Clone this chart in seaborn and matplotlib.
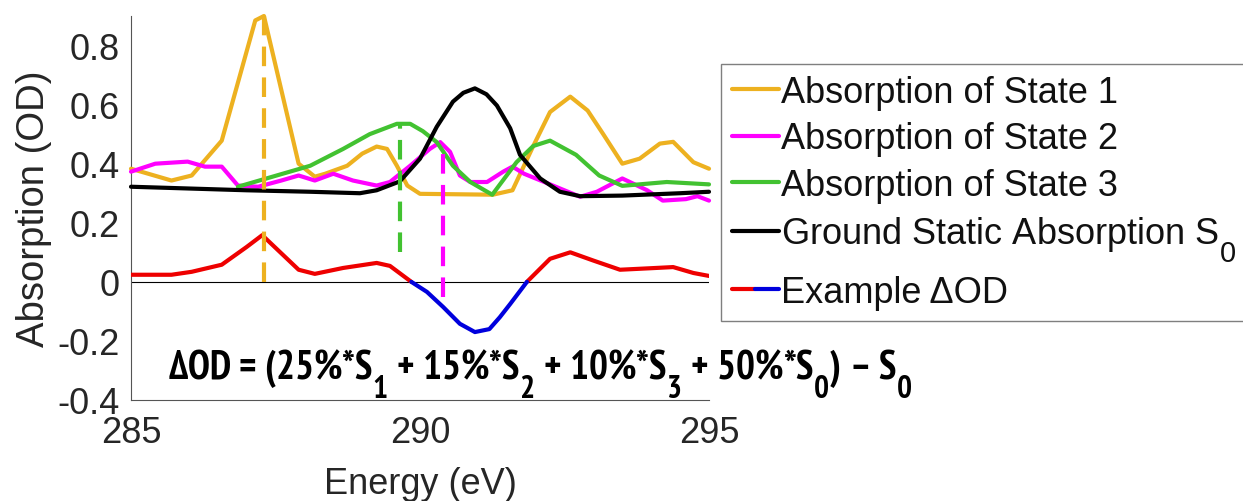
import os
import numpy as np
import pandas as pd
import matplotlib
matplotlib.use("Agg")
import matplotlib.pyplot as plt
import seaborn as sns
from matplotlib import font_manager as fm
from matplotlib.font_manager import FontProperties
from matplotlib.lines import Line2D
from matplotlib.legend_handler import HandlerTuple

# ---- spectra (energy in eV, absorption in OD) ----
energy_s1 = [285.0, 285.7, 286.05, 286.57, 287.15, 287.3, 287.9, 288.18, 288.36, 288.74,
             289.0, 289.25, 289.43, 289.6, 289.78, 290.0, 291.26, 291.6, 291.96, 292.25,
             292.6, 292.9, 293.17, 293.5, 293.8, 294.15, 294.38, 294.73, 295.0]
state1 = [0.383, 0.343, 0.36, 0.478, 0.885, 0.90, 0.40, 0.356, 0.366, 0.393,
          0.434, 0.458, 0.45, 0.393, 0.326, 0.298, 0.295, 0.31, 0.46, 0.575,
          0.627, 0.58, 0.50, 0.40, 0.417, 0.468, 0.474, 0.405, 0.383]

energy_s2 = [285.0, 285.42, 285.98, 286.28, 286.57, 286.85, 287.2, 287.6, 287.9, 288.18,
             288.36, 288.5, 288.84, 289.25, 289.48, 289.83, 290.17, 290.35, 290.52, 290.69,
             290.87, 291.16, 291.44, 291.6, 291.8, 292.25, 292.77, 293.06, 293.5, 293.93,
             294.2, 294.6, 294.8, 295.0]
state2 = [0.373, 0.40, 0.407, 0.39, 0.39, 0.326, 0.322, 0.343, 0.36, 0.343,
          0.356, 0.366, 0.343, 0.326, 0.338, 0.393, 0.45, 0.473, 0.44, 0.36,
          0.338, 0.338, 0.373, 0.39, 0.366, 0.33, 0.288, 0.305, 0.35, 0.31,
          0.275, 0.28, 0.29, 0.275]

energy_s3 = [286.85, 288.1, 288.67, 289.13, 289.6, 289.83, 290.05, 290.29, 290.57, 290.87,
             291.25, 291.67, 291.96, 292.25, 292.7, 293.1, 293.5, 294.27, 295.0]
state3 = [0.322, 0.393, 0.45, 0.50, 0.535, 0.535, 0.51, 0.473, 0.393, 0.338,
          0.295, 0.405, 0.46, 0.478, 0.43, 0.36, 0.325, 0.338, 0.33]

energy_s0 = [285.0, 286.0, 287.0, 288.1, 288.96, 289.25, 289.65, 290.0, 290.29, 290.57,
             290.75, 290.95, 291.15, 291.33, 291.56, 291.73, 292.08, 292.42, 292.77, 293.5,
             294.5, 295.0]
ground = [0.322, 0.316, 0.31, 0.305, 0.30, 0.31, 0.34, 0.417, 0.525, 0.61,
          0.64, 0.655, 0.635, 0.597, 0.52, 0.43, 0.35, 0.305, 0.29, 0.292,
          0.30, 0.305]

energy_dod = [285.0, 285.7, 286.05, 286.57, 287.0, 287.27, 287.9, 288.18, 288.67, 289.25,
              289.48, 289.85, 290.12, 290.4, 290.69, 290.95, 291.2, 291.38, 291.56, 291.85,
              292.25, 292.6, 293.0, 293.46, 293.98, 294.38, 294.73, 295.0]
delta_od = [0.024, 0.024, 0.034, 0.058, 0.118, 0.158, 0.041, 0.027, 0.047, 0.064,
            0.054, 0.0, -0.034, -0.085, -0.142, -0.17, -0.16, -0.12, -0.075, 0.0,
            0.078, 0.10, 0.072, 0.041, 0.046, 0.05, 0.03, 0.02]

# peak positions of the three states and the extent of their marker lines
peak_energy = [287.3, 289.65, 290.4]
peak_top = [0.9, 0.535, 0.47]
peak_bottom = [0.0, 0.10, -0.05]

legend_labels = ["Absorption of State 1", "Absorption of State 2", "Absorption of State 3",
                 "Ground Static Absorption S$_0$", "Example \u0394OD"]
formula = ("\u0394OD = (25%*S$_\\mathbf{1}$ + 15%*S$_\\mathbf{2}$ + 10%*S$_\\mathbf{3}$"
           " + 50%*S$_\\mathbf{0}$) \u2013 S$_\\mathbf{0}$")
x_ticks = [285, 290, 295]
y_ticks = [-0.4, -0.2, 0, 0.2, 0.4, 0.6, 0.8]
y_tick_labels = ["-0.4", "-0.2", "0", "0.2", "0.4", "0.6", "0.8"]

# ---- styling ----
C_S1 = "#EDB120"
C_S2 = "#FF00FF"
C_S3 = "#42C231"
C_S0 = "#000000"
C_POS = "#EE0000"
C_NEG = "#0000DD"
LW = 3.0


def narrow_bold_font():
    """Pick a narrow/condensed bold sans face for the formula, if one is installed."""
    files = sorted({f.fname for f in fm.fontManager.ttflist})
    for width in ("narrow", "semicondensed", "condensed"):
        for fname in files:
            base = os.path.basename(fname).lower().replace("_", "").replace("-", "")
            if width not in base:
                continue
            if width == "condensed" and ("semicondensed" in base or "extracondensed" in base
                                         or "ultracondensed" in base):
                continue
            stem = os.path.splitext(base)[0]
            if not stem.endswith("bold"):
                continue
            if any(w in stem for w in ("semibold", "extrabold", "demibold", "ultrabold")):
                continue
            if any(b in stem for b in ("italic", "oblique", "serif", "mono")):
                continue
            return fname
    return None


def _escape(s):
    return "".join("\\" + ch if ch in "\\=_:," else ch for ch in s)


sns.set_theme(style="white")
plt.rcParams["font.family"] = ["Liberation Sans", "DejaVu Sans"]
plt.rcParams["axes.unicode_minus"] = False
plt.rcParams["mathtext.fontset"] = "custom"
plt.rcParams["mathtext.rm"] = "Liberation Sans"
plt.rcParams["mathtext.it"] = "Liberation Sans:italic"

narrow_file = narrow_bold_font()
if narrow_file:
    plt.rcParams["mathtext.bf"] = ":file=" + _escape(narrow_file)
    formula_font = FontProperties(fname=narrow_file)
else:
    plt.rcParams["mathtext.bf"] = "Liberation Sans:bold"
    formula_font = FontProperties(family="Liberation Sans", weight="bold")

# larger, lower subscripts
try:
    import matplotlib._mathtext as _mt
    _mt.SHRINK_FACTOR = 0.8
    _mt.FontConstantsBase.sub1 = 0.9
except Exception:
    pass

W, H = 1243, 502
fig = plt.figure(figsize=(W / 100, H / 100), dpi=100)
ax = fig.add_axes([131 / W, 1 - 401 / H, 578 / W, 384 / H])

ax.axhline(0, color="black", lw=0.8, zorder=1)

curves = [(energy_s1, state1, C_S1), (energy_s2, state2, C_S2),
          (energy_s3, state3, C_S3), (energy_s0, ground, C_S0)]
for xs, ys, c in curves:
    sns.lineplot(x=xs, y=ys, ax=ax, color=c, linewidth=LW, estimator=None,
                 sort=False, legend=False, zorder=3, clip_on=False)


def runs(mask):
    idx = np.flatnonzero(mask)
    return np.split(idx, np.flatnonzero(np.diff(idx) > 1) + 1)


e_d = np.asarray(energy_dod)
y_d = np.asarray(delta_od)
for seg in runs(y_d >= 0):
    sns.lineplot(x=e_d[seg], y=y_d[seg], ax=ax, color=C_POS, linewidth=LW,
                 estimator=None, sort=False, legend=False, zorder=4)
for seg in runs(y_d <= 0):
    sns.lineplot(x=e_d[seg], y=y_d[seg], ax=ax, color=C_NEG, linewidth=LW,
                 estimator=None, sort=False, legend=False, zorder=4)

ax.vlines(peak_energy, peak_bottom, peak_top, colors=[C_S1, C_S3, C_S2],
          linewidth=LW, linestyles=[(0, (4.7, 2.7))], zorder=5)

ann = ax.text(285.64, -0.322, formula, fontproperties=formula_font, fontsize=27,
              color="black", ha="left", va="baseline", zorder=6)

ax.set_xlim(285, 295)
ax.set_ylim(-0.4, 0.9)
ax.set_xticks(x_ticks)
ax.set_xticklabels([str(t) for t in x_ticks])
ax.set_yticks(y_ticks)
ax.set_yticklabels(y_tick_labels)
ax.tick_params(direction="in", length=5, width=0.8, color="#555555",
               labelsize=26, labelcolor="#262626")
ax.tick_params(axis="y", pad=8)
ax.tick_params(axis="x", pad=11)
for side in ("top", "right"):
    ax.spines[side].set_visible(False)
for side in ("left", "bottom"):
    ax.spines[side].set_color("#555555")
    ax.spines[side].set_linewidth(0.8)

ax.set_xlabel("Energy (eV)", fontsize=26, color="#262626")
ax.set_ylabel("Absorption (OD)", fontsize=27.5, color="#262626")
ax.xaxis.set_label_coords(0.5, -0.172)
ax.yaxis.set_label_coords(-0.136, 0.5)

handles = [Line2D([], [], color=C_S1, lw=LW), Line2D([], [], color=C_S2, lw=LW),
           Line2D([], [], color=C_S3, lw=LW), Line2D([], [], color=C_S0, lw=LW),
           (Line2D([], [], color=C_POS, lw=LW), Line2D([], [], color=C_NEG, lw=LW))]
leg = fig.legend(handles, legend_labels, loc="upper left",
                 bbox_to_anchor=(721 / W, 1 - 65 / H), bbox_transform=fig.transFigure,
                 fontsize=26, frameon=True, fancybox=False, edgecolor="#7f7f7f",
                 framealpha=1, borderpad=0.3, labelspacing=0.32, handlelength=1.3,
                 handletextpad=0.05, borderaxespad=0,
                 handler_map={tuple: HandlerTuple(ndivide=None, pad=0)})
leg.get_frame().set_linewidth(1.0)
for t in leg.get_texts():
    t.set_color("#111111")

# fit the formula to its span under the curves
fig.canvas.draw()
bb = ann.get_window_extent(fig.canvas.get_renderer())
ann.set_fontsize(27 * 744 / bb.width)

fig.savefig("out.png", dpi=100)
